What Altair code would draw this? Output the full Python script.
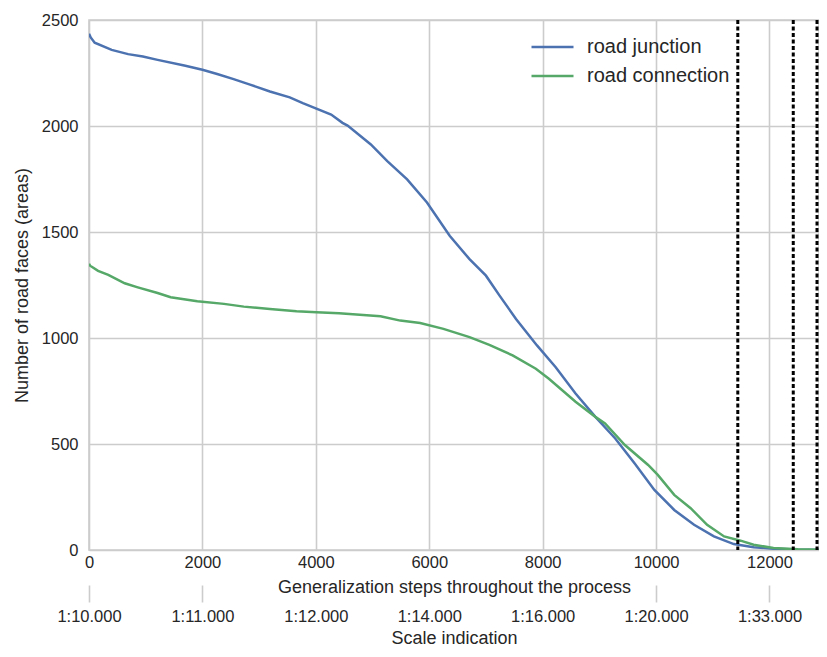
import altair as alt
import pandas as pd

# ---------------- data ----------------
series_names = ["road junction", "road connection"]
series_colors = ["#4C72B0", "#55A868"]

junction_steps = [0, 30, 100, 400, 690, 950, 1210, 1680, 2000, 2260, 2550, 2840,
                  3190, 3540, 3770, 4010, 4270, 4470, 4560, 4970, 5260, 5610, 5960,
                  6360, 6710, 7000, 7240, 7530, 7900, 8230, 8580, 8930, 9280, 9620,
                  9970, 10320, 10670, 11020, 11370, 11720, 12070, 12500, 12870]
junction_faces = [2435, 2418, 2393, 2359, 2339, 2328, 2312, 2285, 2265, 2245, 2221, 2195,
                  2163, 2135, 2108, 2082, 2054, 2015, 2002, 1913, 1834, 1748, 1639,
                  1482, 1372, 1294, 1200, 1090, 965, 862, 738, 628, 526, 409,
                  283, 189, 119, 64, 28, 13, 6, 2, 1]

connection_steps = [0, 20, 160, 340, 630, 860, 1210, 1440, 1910, 2380, 2730, 3190,
                    3660, 4010, 4410, 5140, 5490, 5840, 6250, 6710, 7060, 7470, 7880,
                    8110, 8580, 8930, 9100, 9450, 9860, 10030, 10320, 10610, 10900,
                    11200, 11490, 11720, 12070, 12500, 12870]
connection_faces = [1350, 1341, 1317, 1298, 1258, 1239, 1212, 1192, 1173, 1161, 1148, 1137,
                    1126, 1121, 1117, 1103, 1082, 1071, 1043, 1004, 968, 918, 855,
                    808, 699, 628, 597, 495, 401, 354, 260, 197, 119,
                    64, 44, 25, 9, 3, 1]

threshold_steps = [11441, 12419, 12838]

step_ticks = [0, 2000, 4000, 6000, 8000, 10000, 12000]
scale_labels = ["1:10.000", "1:11.000", "1:12.000", "1:14.000", "1:16.000",
                "1:20.000", "1:33.000"]
face_ticks = [0, 500, 1000, 1500, 2000, 2500]
x_max = 12873
y_max = 2500

df = pd.concat([
    pd.DataFrame({"step": junction_steps, "faces": junction_faces, "series": series_names[0]}),
    pd.DataFrame({"step": connection_steps, "faces": connection_faces, "series": series_names[1]}),
])
rules_df = pd.DataFrame({"step": threshold_steps})

# ---------------- style ----------------
FONT = "Liberation Sans"
TEXT = "#262626"
GRID = "#cccccc"

x_scale = alt.Scale(domain=[0, x_max], nice=False, zero=False)

label_expr = "[{}][indexof([{}], datum.value)]".format(
    ",".join("'" + s + "'" for s in scale_labels),
    ",".join(str(v) for v in step_ticks),
)

lines = alt.Chart(df).mark_line(strokeWidth=2.5, clip=True).encode(
    x=alt.X("step:Q", scale=x_scale,
            axis=alt.Axis(values=step_ticks, format="d",
                          title="Generalization steps throughout the process",
                          grid=True, gridColor=GRID, gridWidth=1.6,
                          ticks=False, tickSize=0, domain=False,
                          labelPadding=4, labelFontSize=16.5, labelColor=TEXT,
                          labelFlush=False, labelOverlap=False,
                          titleFontSize=18, titleColor=TEXT, titleFontWeight="normal",
                          titlePadding=8)),
    y=alt.Y("faces:Q", scale=alt.Scale(domain=[0, y_max], nice=False),
            axis=alt.Axis(values=face_ticks, format="d",
                          title="Number of road faces (areas)",
                          grid=True, gridColor=GRID, gridWidth=1.6,
                          ticks=False, tickSize=0, domain=False,
                          labelPadding=11, labelFontSize=16.5, labelColor=TEXT,
                          labelFlush=False, labelOverlap=False,
                          titleFontSize=18, titleColor=TEXT, titleFontWeight="normal",
                          titlePadding=10)),
    color=alt.Color("series:N",
                    scale=alt.Scale(domain=series_names, range=series_colors),
                    legend=alt.Legend(title=None, orient="none", legendX=451.5, legendY=15,
                                      symbolType="M-2,0L2,0", symbolSize=441,
                                      symbolStrokeWidth=2.5, labelFontSize=20,
                                      labelColor=TEXT, labelOffset=22.5, rowPadding=7,
                                      padding=0)),
)

rules = alt.Chart(rules_df).mark_rule(color="black", strokeWidth=3,
                                      strokeDash=[4, 2.5]).encode(
    x=alt.X("step:Q", scale=x_scale,
            axis=alt.Axis(orient="bottom", offset=35, values=step_ticks,
                          labelExpr=label_expr, title="Scale indication",
                          grid=False, domain=False, ticks=True, tickSize=17,
                          tickWidth=1.6, tickColor=GRID,
                          tickOpacity={"condition": {"test": "datum.value > 3000 && datum.value < 9000",
                                                     "value": 0},
                                       "value": 1},
                          labelPadding=6, labelFontSize=16.5, labelColor=TEXT,
                          labelFlush=False, labelOverlap=False,
                          titleFontSize=18, titleColor=TEXT, titleFontWeight="normal",
                          titlePadding=5)),
)

chart = alt.layer(lines, rules).resolve_axis(x="independent").properties(
    width=730, height=530,
    autosize=alt.AutoSizeParams(type="none"),
    padding={"left": 81, "top": 12, "right": 0, "bottom": 98},
).configure(font=FONT).configure_view(stroke=GRID, strokeWidth=1.6)

chart.save("out.html", embed_options={"renderer": "svg", "actions": False})
